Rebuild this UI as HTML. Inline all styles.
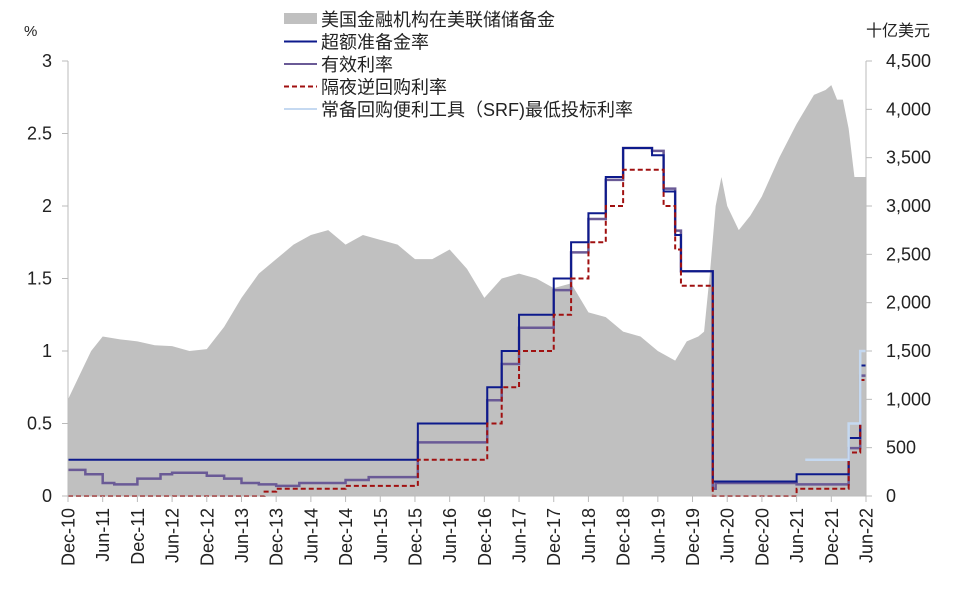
<!DOCTYPE html>
<html><head><meta charset="utf-8"><style>
body{margin:0;background:#fff;}
svg text{font-family:"Liberation Sans","Noto Sans CJK SC",sans-serif;fill:#222;}
</style></head><body>
<svg id="chart" width="958" height="595" xmlns="http://www.w3.org/2000/svg">
<g id="area"></g>
<g id="lines"></g>
<g id="axes"></g>
<g id="legend"></g>
</svg>
<script>
// months since Dec-10, reserves in USD bn
const resMonths=[0,2,4,6,9,12,15,18,21,24,27,30,33,36,39,42,45,48,51,54,57,60,63,66,69,72,75,78,81,84,87,90,93,96,99,102,105,107,109,110,111,112,113,114,116,118,120,123,126,129,131,132,133,134,135,136,138];
const resValues=[1000,1250,1500,1650,1620,1600,1560,1550,1500,1520,1750,2050,2300,2450,2600,2700,2750,2600,2700,2650,2600,2450,2450,2550,2350,2050,2250,2300,2250,2150,2200,1900,1850,1700,1650,1500,1400,1600,1650,1700,2300,3000,3300,3000,2750,2900,3100,3500,3850,4150,4200,4250,4100,4100,3800,3300,3300];
const iorbMonths=[0,60.5,72.5,75,78,84,87,90,93,96,101,103,105,106,111.5,126,135,137,138];
const iorbValues=[0.25,0.5,0.75,1.0,1.25,1.5,1.75,1.95,2.2,2.4,2.35,2.1,1.8,1.55,0.1,0.15,0.4,0.9,0.9];
const rrpMonths=[0,34,36,48,60.5,72.5,75,78,84,87,90,93,96,103,105,106,111.5,126,135,137,138];
const rrpValues=[0,0.03,0.05,0.07,0.25,0.5,0.75,1.0,1.25,1.5,1.75,2.0,2.25,2.0,1.7,1.45,0,0.05,0.3,0.8,0.8];
const effrMonths=[0,3,6,8,10,12,16,18,20,24,27,30,33,36,40,42,45,48,52,56,60.5,72.5,75,78,84,87,90,93,96,101,103,105,106,111.5,112,114,120,126,128,130,135,137,138];
const effrValues=[0.18,0.15,0.09,0.08,0.08,0.12,0.15,0.16,0.16,0.14,0.12,0.09,0.08,0.07,0.09,0.09,0.09,0.11,0.13,0.13,0.37,0.66,0.91,1.16,1.42,1.68,1.91,2.18,2.4,2.38,2.12,1.83,1.55,0.05,0.09,0.09,0.09,0.08,0.08,0.08,0.33,0.83,0.83];
const srfMonths=[127.5,135,137,138];
const srfValues=[0.25,0.5,1.0,1.0];
const leftTicks=[0,0.5,1,1.5,2,2.5,3];
const rightTicks=[0,500,1000,1500,2000,2500,3000,3500,4000,4500];
const xLabels=["Dec-10","Jun-11","Dec-11","Jun-12","Dec-12","Jun-13","Dec-13","Jun-14","Dec-14","Jun-15","Dec-15","Jun-16","Dec-16","Jun-17","Dec-17","Jun-18","Dec-18","Jun-19","Dec-19","Jun-20","Dec-20","Jun-21","Dec-21","Jun-22"];

const X0=68,X1=866,Y0=496,Y1=61;
const xs=t=>X0+t*(X1-X0)/138;
const yl=v=>Y0-v*(Y0-Y1)/3;
const yr=v=>Y0-v*(Y0-Y1)/4500;
const NS="http://www.w3.org/2000/svg";
function mk(tag,parent,attrs){const e=document.createElementNS(NS,tag);for(const k in attrs)e.setAttribute(k,attrs[k]);parent.appendChild(e);return e;}

let d=`M${xs(resMonths[0])},${Y0}`;
resMonths.forEach((m,i)=>{d+=` L${xs(m)},${yr(resValues[i])}`;});
d+=` L${xs(resMonths[resMonths.length-1])},${Y0} Z`;
const ar=mk('path',document.getElementById('area'),{d:d,fill:'#c0c0c0'});



function stepPath(ms,vs){let p=`M${xs(ms[0])},${yl(vs[0])}`;for(let i=1;i<ms.length;i++){p+=` H${xs(ms[i])} V${yl(vs[i])}`;}return p;}
const L=document.getElementById('lines');
const effr=mk('path',L,{d:stepPath(effrMonths,effrValues),fill:'none',stroke:'#6a5a96','stroke-width':2.5});


const iorb=mk('path',L,{d:stepPath(iorbMonths,iorbValues),fill:'none',stroke:'#0d1a8c','stroke-width':2});


const rrp=mk('path',L,{d:stepPath(rrpMonths,rrpValues),fill:'none',stroke:'#a01010','stroke-width':2,'stroke-dasharray':'5,3'});


const srf=mk('path',L,{d:stepPath(srfMonths,srfValues),fill:'none',stroke:'#c5d9f1','stroke-width':2.5});



const A=document.getElementById('axes');
mk('line',A,{x1:X0,y1:Y1,x2:X0,y2:Y0,stroke:'#bbb'});
mk('line',A,{x1:X1,y1:Y1,x2:X1,y2:Y0,stroke:'#bbb'});
mk('line',A,{x1:X0,y1:Y0,x2:X1,y2:Y0,stroke:'#bbb'});
leftTicks.forEach(v=>{
  mk('line',A,{x1:X0-6,y1:yl(v),x2:X0,y2:yl(v),stroke:'#bbb'});
  const t=mk('text',A,{x:X0-16,y:yl(v)+6,'text-anchor':'end','font-size':18});
  t.textContent=v;
  
  
});
rightTicks.forEach(v=>{
  mk('line',A,{x1:X1,y1:yr(v),x2:X1+6,y2:yr(v),stroke:'#bbb'});
  const t=mk('text',A,{x:X1+20,y:yr(v)+6,'font-size':18});
  t.textContent=v.toLocaleString('en-US');
  
  
});
xLabels.forEach((s,i)=>{
  const x=xs(i*6);
  mk('line',A,{x1:x,y1:Y0,x2:x,y2:Y0+6,stroke:'#bbb'});
  const t=mk('text',A,{x:0,y:0,'text-anchor':'end','font-size':18,transform:`translate(${x+6.5},${Y0+12}) rotate(-90)`});
  t.textContent=s;
  
  
});
const u1=mk('text',A,{x:24,y:36,'font-size':15});u1.textContent='%';


const u2=mk('text',A,{x:866,y:36,'font-size':16});u2.textContent='十亿美元';



const G=document.getElementById('legend');
const items=[["美国金融机构在美联储储备金","area"],["超额准备金率","#0d1a8c"],["有效利率","#6a5a96"],["隔夜逆回购利率","dash"],["常备回购便利工具（SRF)最低投标利率","#c5d9f1"]];
items.forEach((it,i)=>{
  const y=19+i*22.5;
  if(it[1]==='area') mk('rect',G,{x:284,y:y-6,width:33,height:11,fill:'#c0c0c0'});
  else if(it[1]==='dash') mk('line',G,{x1:284,y1:y,x2:317,y2:y,stroke:'#a01010','stroke-width':2,'stroke-dasharray':'5,3'});
  else mk('line',G,{x1:284,y1:y,x2:317,y2:y,stroke:it[1],'stroke-width':2});
  const t=mk('text',G,{x:321,y:y+7,'font-size':18});
  t.textContent=it[0];
  
  
});
</script>
</body></html>
